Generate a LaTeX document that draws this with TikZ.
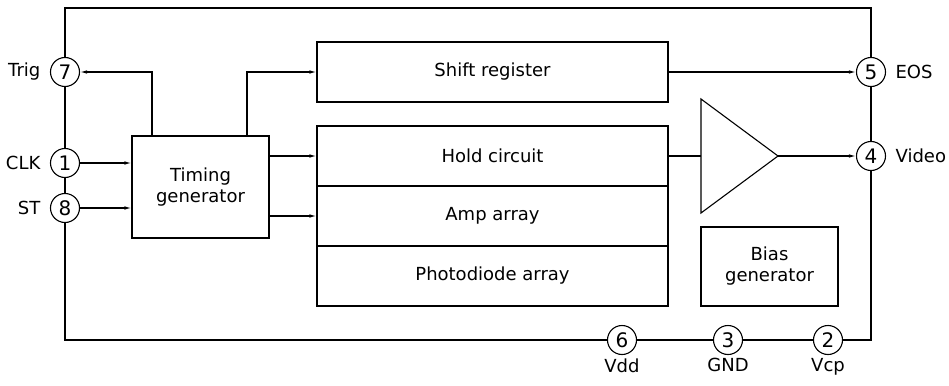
\documentclass[tikz,border=0pt]{standalone}
\usepackage{fontspec}
\setmainfont{DejaVu Sans}
\usetikzlibrary{arrows.meta}
\usetikzlibrary{positioning}

\tikzset{
blk/.style={draw, rectangle, inner sep=0pt, minimum width=351pt, minimum height=60pt},
pin/.style={draw, circle, fill=white, inner sep=0pt, minimum size=29pt, font=\fontsize{20}{22}\selectfont},
pinlabel/.style={inner sep=1pt}
}

\begin{document}
\begin{tikzpicture}[x=1pt, y=-1pt, line width=1.1pt, font=\fontsize{18}{21}\selectfont,
  >={Latex[length=7pt,width=3.5pt]}, node distance=8pt]
\useasboundingbox (0,0) rectangle (949,385);
% chip outline
\draw (65,8) rectangle (871,340);
% blocks
\node[draw, rectangle, align=center, minimum width=137pt, minimum height=102pt] (timing) at (200.5,187) {Timing\\generator};
\node[blk] (shift) at (492.5,72) {Shift register};
\node[blk] (hold) at (492.5,156) {Hold circuit};
\node[blk] (amp) at (492.5,216) {Amp array};
\node[blk] (photo) at (492.5,276) {Photodiode array};
\node[draw, rectangle, align=center, minimum width=137pt, minimum height=79pt] (bias) at (769.5,266.5) {Bias\\generator};
% amplifier
\coordinate (ampin) at (701,156);
\coordinate (ampout) at (778,156);
\draw (701,99) -- (ampout) -- (701,213) -- cycle;
% pins
\node[pin] (7) at (65,72) {7};
\node[pin] (1) at (65,163) {1};
\node[pin] (8) at (65,208) {8};
\node[pin] (5) at (871,72) {5};
\node[pin] (4) at (871,156) {4};
\node[pin] (6) at (622,340) {6};
\node[pin] (3) at (728,340) {3};
\node[pin] (2) at (828,340) {2};
\node[pinlabel, left=of 7] (trig) {Trig};
\node[pinlabel, left=of 1] (clk) {CLK};
\node[pinlabel, left=of 8] (st) {ST};
\node[pinlabel, right=of 5] (eos) {EOS};
\node[pinlabel, right=of 4] (video) {Video};
\node[pinlabel, below=2pt of 6] (vdd) {Vdd};
\node[pinlabel, below=2pt of 3] (gnd) {GND};
\node[pinlabel, below=2pt of 2] (vcp) {Vcp};
% signals
\draw[->] ([xshift=-48.5pt]timing.north) |- (7);
\draw[->] ([xshift=46.5pt]timing.north) |- (shift);
\draw[->] (1) -- (1 -| timing.west);
\draw[->] (8) -- (8 -| timing.west);
\draw[->] (timing.east |- hold) -- (hold);
\draw[->] (timing.east |- amp) -- (amp);
\draw[->] (shift) -- (5);
\draw (hold) -- (ampin);
\draw[->] (ampout) -- (4);
\end{tikzpicture}
\end{document}
